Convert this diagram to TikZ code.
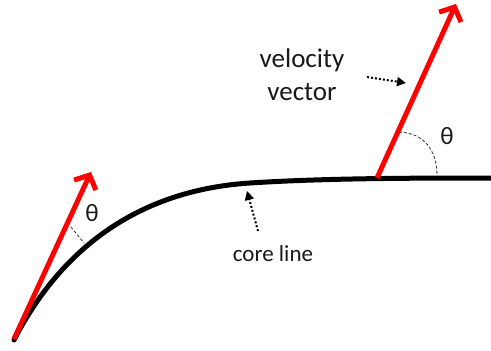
\documentclass[tikz,border=0pt]{standalone}
\usepackage{fontspec}
\setmainfont{Carlito}
\usetikzlibrary{arrows.meta}
\begin{document}
\begin{tikzpicture}[x=1pt,y=-1pt,
  core/.style={line width=5pt, black},
  vel/.style={line width=5pt, red, -{Straight Barb[length=11pt,width=24pt]}},
  pointer/.style={line width=2pt, dotted, -{Triangle[length=9pt,width=9pt]}},
  anglemark/.style={line width=0.8pt, dashed, dash pattern=on 3pt off 2pt, black!80},
  lbl/.style={font=\fontsize{27}{33}\selectfont, align=center, text=black!90, inner sep=0pt},
  small/.style={font=\fontsize{23}{27}\selectfont, text=black!90, inner sep=0pt},
  greek/.style={font=\fontsize{25}{29}\selectfont, text=black!90, inner sep=0pt}]
\useasboundingbox (0,0) rectangle (491,351);
\fill[white] (0,0) rectangle (491,351);
% core line
\coordinate (c0) at (14,340);
\coordinate (c1) at (250,183);
\coordinate (c2) at (491,178);
\draw[core, line cap=round] (c0) .. controls (45,280) and (110,192) .. (c1)
   .. controls (320,178.5) and (400,178) .. (c2);
% velocity vectors
\coordinate (a0) at (14,339);
\coordinate (a1) at (91,172);
\draw[vel] (a0) -- (a1);
\coordinate (b0) at (377,178);
\coordinate (b1) at (456,4);
\draw[vel] (b0) -- (b1);
% angle marks
\coordinate (m0) at (71,227);
\coordinate (m1) at (84,243);
\draw[anglemark] (m0) -- (m1);
\coordinate (r0) at (399,132);
\coordinate (r1) at (437,176);
\draw[anglemark] (r0) .. controls (424,133) and (437,150) .. (r1);
\node[greek] (t1) at (92,213) {θ};
\node[greek] (t2) at (447,136) {θ};
% labels
\node[lbl] (vv) at (302,75) {velocity\\vector};
\node[small] (cl) at (273,254) {core line};
\coordinate (p0) at (367,77);
\coordinate (p1) at (406,83);
\draw[pointer] (p0) -- (p1);
\coordinate (q0) at (258,231);
\coordinate (q1) at (247,191);
\draw[pointer] (q0) -- (q1);
\end{tikzpicture}
\end{document}
